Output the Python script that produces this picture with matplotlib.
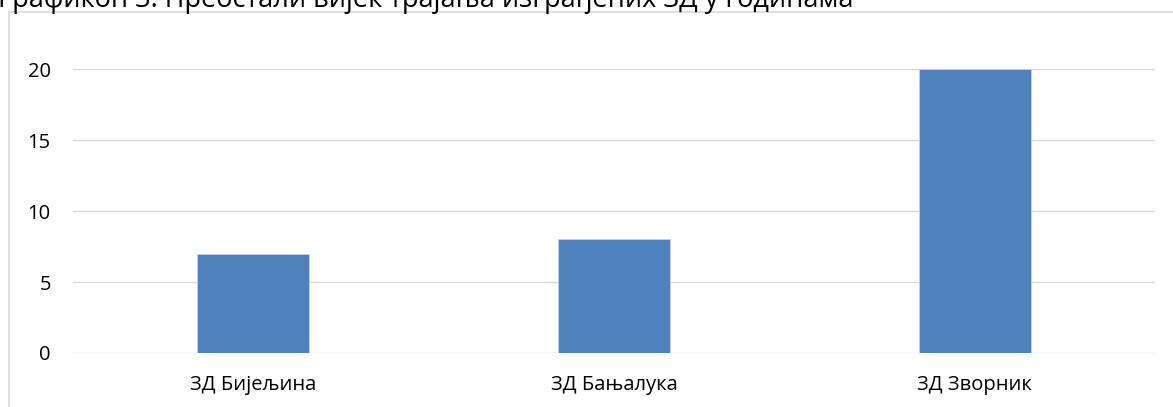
import matplotlib.pyplot as plt
from matplotlib.patches import Rectangle

categories = ["ЗД Бијељина", "ЗД Бањалука", "ЗД Зворник"]
years_left = [7, 8, 20]
y_ticks = [0, 5, 10, 15, 20]
title = "Графикон 3. Преостали вијек трајања изграђених ЗД у годинама"

plt.rcParams['font.family'] = ['Open Sans', 'DejaVu Sans']

W, H = 1173, 407
fig = plt.figure(figsize=(W / 100, H / 100), dpi=100)

# frame of the chart object
fig.patches.append(Rectangle((8.5 / W, -0.1), 1.2, (H - 11.5) / H + 0.1,
                             transform=fig.transFigure, fill=False,
                             edgecolor="#d9d9d9", linewidth=1.2))

fig.text(-0.002, 1 - 6.5 / H, title, fontsize=19.5, va="baseline", ha="left",
         color="#000000")

ax = fig.add_axes([73 / W, 54 / H, (1155 - 73) / W, (353 - 35) / H])
x = range(len(categories))
ax.bar(x, years_left, width=0.31, color="#4f81bd", edgecolor="#c5d3e8",
       linewidth=0.6, zorder=3)

ax.set_xlim(-0.5, len(categories) - 0.5)
ax.set_ylim(0, 22.4)
ax.set_yticks(y_ticks)
ax.set_xticks(list(x))
ax.set_xticklabels(categories)
ax.grid(axis="y", color="#d9d9d9", linewidth=1.0, zorder=0)
for s in ax.spines.values():
    s.set_visible(False)
ax.tick_params(axis="both", length=0, labelsize=14.5, colors="#000000")
ax.tick_params(axis="y", pad=16)
ax.tick_params(axis="x", pad=16)

fig.savefig("out.png", dpi=100)
